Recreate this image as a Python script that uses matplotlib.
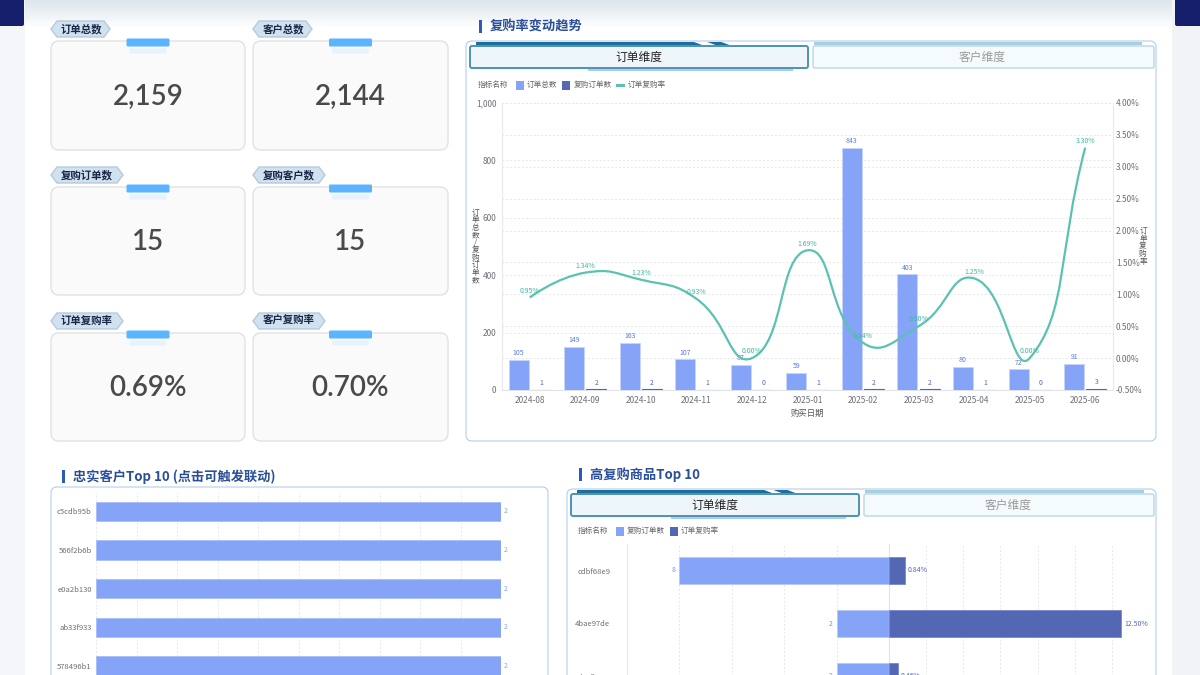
import numpy as np
import matplotlib
matplotlib.use("Agg")
import matplotlib.pyplot as plt
from matplotlib.patches import FancyBboxPatch, Rectangle, Polygon, PathPatch
from matplotlib.path import Path
from matplotlib.ticker import FuncFormatter

plt.rcParams['font.family'] = ['Noto Sans CJK SC', 'DejaVu Sans']

# KPI 卡片
kpi_labels = ['订单总数', '客户总数', '复购订单数', '复购客户数', '订单复购率', '客户复购率']
kpi_values = ['2,159', '2,144', '15', '15', '0.69%', '0.70%']

# 复购率变动趋势
months = ['2024-08', '2024-09', '2024-10', '2024-11', '2024-12', '2025-01',
          '2025-02', '2025-03', '2025-04', '2025-05', '2025-06']
order_total = [105, 149, 163, 107, 87, 59, 843, 403, 80, 72, 91]
repeat_orders = [1, 2, 2, 1, 0, 1, 2, 2, 1, 0, 3]
repeat_rate = [0.95, 1.34, 1.23, 0.93, 0.00, 1.69, 0.24, 0.50, 1.25, 0.00, 3.30]

# 忠实客户Top 10 (只看得到前5个)
customers = ['c5cdb95b', '566f2b6b', 'e0a2b130', 'ab33f933', '578496b1']
customer_orders = [2, 2, 2, 2, 2]

# 高复购商品Top 10
products = ['cdbf68e9', '4bae97de', 'd17fb606']
product_repeat = [8, 2, 2]
product_rate = [0.84, 12.50, 0.46]

LIGHT = '#85a3f7'
DARK = '#5367b5'
TEAL = '#5bc2b1'
GRID = '#e4e8ef'
TICK = '#6e7079'

W, H = 1200, 675
fig = plt.figure(figsize=(12, 6.75), dpi=100)
fig.patch.set_facecolor('white')

bg = fig.add_axes([0, 0, 1, 1])
bg.set_xlim(0, W)
bg.set_ylim(H, 0)
bg.axis('off')


def px_ax(x0, y0, x1, y1):
    a = fig.add_axes([x0 / W, 1 - y1 / H, (x1 - x0) / W, (y1 - y0) / H])
    a.set_facecolor('none')
    return a


def rbox(x0, y0, x1, y1, r=6, fc='white', ec='#b3cdf0', lw=0.8, z=1):
    bg.add_patch(FancyBboxPatch((x0 + r, y0 + r), x1 - x0 - 2 * r, y1 - y0 - 2 * r,
                                boxstyle=f'round,pad={r}', fc=fc, ec=ec, lw=lw, zorder=z))


# ---- 页面背景 ----
bg.add_patch(Rectangle((0, 0), 25, H, fc='#f4f6fa', ec='none', zorder=0))
bg.add_patch(Rectangle((1172, 0), 28, H, fc='#f1f3f7', ec='none', zorder=0))
bg.add_patch(FancyBboxPatch((0, -10), 22, 34, boxstyle='round,pad=2', fc='#161f6b', ec='none', zorder=1))
bg.add_patch(FancyBboxPatch((1177, -10), 30, 34, boxstyle='round,pad=2', fc='#161f6b', ec='none', zorder=1))
grad = np.linspace(0, 1, 50).reshape(-1, 1)
bg.imshow(grad, extent=(25, 1172, 28, 0), cmap=matplotlib.colors.LinearSegmentedColormap.from_list(
    'hd', ['#dde5ed', '#ffffff']), aspect='auto', zorder=0.5)
bg.set_xlim(0, W)
bg.set_ylim(H, 0)

# ---- KPI 卡片 ----
col_x = [(51, 245), (253, 448)]
row_y = [(41, 150), (187, 295), (333, 441)]
for k, (lab, val) in enumerate(zip(kpi_labels, kpi_values)):
    (x0, x1), (y0, y1) = col_x[k % 2], row_y[k // 2]
    rbox(x0, y0, x1, y1, r=8, fc='#fafafa', ec='#e2e2e2', lw=1.0)
    cx = (x0 + x1) / 2
    bg.add_patch(FancyBboxPatch((cx - 20, y0 - 1), 40, 5, boxstyle='round,pad=1.5',
                                fc='#5ab4ff', ec='none', zorder=3))
    bg.add_patch(FancyBboxPatch((cx - 17, y0 + 9), 34, 2, boxstyle='round,pad=1.5',
                                fc='#e6f3ff', ec='none', zorder=2))
    tw = 59 if len(lab) == 4 else 72
    ty = y0 - 12
    bg.add_patch(Polygon([(x0, ty), (x0 + 6, ty - 8), (x0 + tw - 6, ty - 8), (x0 + tw, ty),
                          (x0 + tw - 6, ty + 8), (x0 + 6, ty + 8)], closed=True,
                         fc='#d0e2f0', ec='#b5cade', lw=1, zorder=3))
    bg.text(x0 + 10, ty, lab, fontsize=7.5, fontweight='bold', color='#1b2545',
            va='center', ha='left', zorder=4)
    bg.text(cx, (y0 + y1) / 2 + 1, val, fontsize=20, color='#4a4a4a', ha='center',
            va='center', family=['Lato', 'DejaVu Sans'], fontweight='semibold', zorder=4)


def title(x, y, s):
    bg.add_patch(Rectangle((x, y - 7), 3, 13, fc='#2b5bb5', ec='none', zorder=3))
    bg.text(x + 11, y, s, fontsize=9.5, fontweight='bold', color='#2a4f9a', va='center', zorder=3)


def tabs(x0, x1, y0, y1, mid):
    # 左边选中
    bg.add_patch(Rectangle((x0 + 8, y0 - 4), (mid - x0) * 0.62, 3, fc='#1d6f99', ec='none', zorder=3))
    for dx in (0.62, 0.70):
        sx = x0 + (mid - x0) * dx
        bg.add_patch(Polygon([(sx, y0 - 4), (sx + 14, y0 - 4), (sx + 22, y0 - 1), (sx + 8, y0 - 1)],
                             fc='#1d6f99', ec='none', zorder=3))
    rbox(x0 + 2, y0, mid - 2, y1, r=2, fc='#eef6fa', ec='#4b93b8', lw=1.4, z=3)
    bg.add_patch(Rectangle((x0 + (mid - x0) * 0.35, y1 + 1), (mid - x0) * 0.6, 2,
                           fc='#a9d0e2', ec='none', zorder=3))
    bg.text((x0 + mid) / 2, (y0 + y1) / 2, '订单维度', fontsize=8.5, color='#222222',
            ha='center', va='center', zorder=4)
    # 右边未选中
    bg.add_patch(Rectangle((mid + 4, y0 - 4), (x1 - mid) * 0.95, 3, fc='#a8cfe0', ec='none', zorder=3))
    rbox(mid + 3, y0, x1 - 1, y1, r=2, fc='#f5fafc', ec='#c3dce8', lw=1.2, z=3)
    bg.text((mid + x1) / 2, (y0 + y1) / 2, '客户维度', fontsize=8.5, color='#9a9a9a',
            ha='center', va='center', zorder=4)


def legend(x, y, items):
    bg.text(x, y, '指标名称', fontsize=5.5, color='#666666', va='center', zorder=3)
    cx = x + 38
    for name, col, kind in items:
        if kind == 'line':
            bg.add_patch(Rectangle((cx, y - 1.5), 9, 3, fc=col, ec='none', zorder=3))
        else:
            bg.add_patch(Rectangle((cx, y - 4.5), 8, 9, fc=col, ec='none', zorder=3))
        bg.text(cx + 11, y, name, fontsize=5.5, color='#666666', va='center', zorder=3)
        cx += 11 + len(name) * 7.6 + 5


# ---- 复购率变动趋势 ----
title(479, 27, '复购率变动趋势')
rbox(466, 41, 1156, 441, r=6)
tabs(468, 1155, 46, 68, 810)
legend(478, 85, [('订单总数', LIGHT, 'bar'), ('复购订单数', DARK, 'bar'), ('订单复购率', TEAL, 'line')])

X0, Y0, X1, Y1 = 502, 103, 1113, 390
x = np.arange(len(months))

axg = px_ax(X0, Y0, X1, Y1)
axg.set_xlim(-0.5, len(months) - 0.5)
axg.set_ylim(-0.5, 4.0)
axg.set_yticks(np.arange(-0.5, 4.01, 0.5))
axg.set_xticks([])
axg.tick_params(left=False, labelleft=False)
axg.grid(axis='y', ls=(0, (2, 2)), color=GRID, lw=0.7)
for s in axg.spines.values():
    s.set_visible(False)

ax = px_ax(X0, Y0, X1, Y1)
ax.bar(x - 0.2, order_total, width=0.36, color=LIGHT, edgecolor='#c8d4fb', lw=0.6, zorder=3)
ax.bar(x + 0.2, repeat_orders, width=0.36, color=DARK, edgecolor=DARK, lw=0.8, zorder=3)
for i in range(len(months)):
    ax.annotate(str(order_total[i]), (x[i] - 0.2, order_total[i]), xytext=(0, 2),
                textcoords='offset points', ha='center', va='bottom', fontsize=5, color='#5b7be0')
    ax.annotate(str(repeat_orders[i]), (x[i] + 0.2, repeat_orders[i]), xytext=(0, 2),
                textcoords='offset points', ha='center', va='bottom', fontsize=5, color=DARK)
ax.set_xlim(-0.5, len(months) - 0.5)
ax.set_ylim(0, 1000)
ax.set_yticks(range(0, 1001, 200))
ax.yaxis.set_major_formatter(FuncFormatter(lambda v, p: f'{v:,.0f}'))
ax.set_xticks(x)
ax.set_xticklabels(months)
ax.tick_params(axis='both', length=0, labelsize=6, labelcolor=TICK, pad=4)
ax.tick_params(axis='y', pad=4)
ax.grid(axis='y', ls=(0, (2, 2)), color=GRID, lw=0.7)
ax.set_axisbelow(True)
for s in ['top', 'right']:
    ax.spines[s].set_visible(False)
ax.spines['bottom'].set_color('#dfe3ea')
ax.spines['left'].set_color('#e6e9ef')
ax.set_xlabel('购买日期', fontsize=6, color='#555555', labelpad=3)
ax.text(-0.043, 0.5, '\n'.join('订单总数/复购订单数'), transform=ax.transAxes, fontsize=5.5,
        color='#555555', ha='center', va='center', linespacing=0.92)

ax2 = ax.twinx()
ax2.set_ylim(-0.5, 4.0)
ax2.set_yticks(np.arange(-0.5, 4.01, 0.5))
ax2.yaxis.set_major_formatter(FuncFormatter(lambda v, p: f'{v:.2f}%'))
ax2.tick_params(axis='y', length=0, labelsize=6, labelcolor=TICK, pad=2)
for s in ['top', 'left', 'bottom']:
    ax2.spines[s].set_visible(False)
ax2.spines['right'].set_color('#e6e9ef')
ax2.text(1.049, 0.5, '\n'.join('订单复购率'), transform=ax2.transAxes, fontsize=5.5,
         color='#555555', ha='center', va='center', linespacing=0.92)


def smooth_path(xs, ys, sx, sy, smooth=0.5):
    # 仿 echarts 的平滑曲线
    P = np.column_stack([np.asarray(xs, float) * sx, np.asarray(ys, float) * sy])
    n = len(P)
    verts, codes = [P[0]], [Path.MOVETO]
    cp_out = P[0]
    for i in range(1, n):
        p, prev = P[i], P[i - 1]
        nxt = P[i + 1] if i < n - 1 else p
        v = nxt - prev
        l0, l1 = np.hypot(*(p - prev)), np.hypot(*(nxt - p))
        r = l1 / (l0 + l1) if (l0 + l1) > 0 else 0
        cp_in = p - v * smooth * (1 - r)
        verts += [cp_out, cp_in, p]
        codes += [Path.CURVE4] * 3
        cp_out = p + v * smooth * r
    return Path(np.array(verts) / [sx, sy], codes)


path = smooth_path(x, repeat_rate, (X1 - X0) / len(months), (Y1 - Y0) / 4.5)
ax2.add_patch(PathPatch(path, fill=False, edgecolor=TEAL, lw=1.6, zorder=5))
for i, v in enumerate(repeat_rate):
    ax2.annotate(f'{v:.2f}%', (x[i], v), xytext=(0, 2), textcoords='offset points',
                 ha='center', va='bottom', fontsize=5, color='#3fb8a3', zorder=6)

# ---- 忠实客户Top 10 ----
title(62, 477, '忠实客户Top 10 (点击可触发联动)')
rbox(51, 487, 548, 700, r=6)
axc = px_ax(96, 492, 501, 879)
yc = np.arange(len(customers))
axc.barh(yc, customer_orders, height=0.5, color=LIGHT, edgecolor='#a9bdfa', lw=0.6, zorder=3)
for i, v in enumerate(customer_orders):
    axc.annotate(str(v), (v, yc[i]), xytext=(2, 0), textcoords='offset points',
                 ha='left', va='center', fontsize=5, color=LIGHT)
axc.set_xlim(0, 2)
axc.set_xticks(np.arange(0, 2.01, 0.2))
axc.set_ylim(9.5, -0.5)
axc.set_yticks(yc)
axc.set_yticklabels(customers)
axc.tick_params(axis='y', length=0, labelsize=5.5, labelcolor=TICK, pad=3)
axc.tick_params(axis='x', length=0, labelbottom=False)
axc.grid(axis='x', ls=(0, (2, 2)), color=GRID, lw=0.7)
axc.set_axisbelow(True)
for s in axc.spines.values():
    s.set_visible(False)

# ---- 高复购商品Top 10 ----
title(579, 475, '高复购商品Top 10')
rbox(567, 489, 1156, 700, r=6)
tabs(569, 1155, 494, 516, 861)
legend(578, 531, [('复购订单数', LIGHT, 'bar'), ('订单复购率', DARK, 'bar')])

yp = np.arange(len(products))
axl = px_ax(627, 544, 889, 1074)
axl.barh(yp, product_repeat, height=0.5, color=LIGHT, edgecolor='#b8c8fb', lw=0.6, zorder=3)
for i, v in enumerate(product_repeat):
    axl.annotate(str(v), (v, yp[i]), xytext=(-3, 0), textcoords='offset points',
                 ha='right', va='center', fontsize=5, color='#6f8ef0')
axl.set_xlim(10, 0)
axl.set_xticks(range(0, 11, 2))
axl.set_ylim(9.5, -0.5)
axl.set_yticks(yp)
axl.set_yticklabels(products)
axl.tick_params(axis='y', length=0, labelsize=5.5, labelcolor=TICK, pad=12)
axl.tick_params(axis='x', length=0, labelbottom=False)
axl.grid(axis='x', ls=(0, (2, 2)), color=GRID, lw=0.7)
axl.set_axisbelow(True)
for s in ['top', 'right', 'bottom']:
    axl.spines[s].set_visible(False)
axl.spines['left'].set_color('#e3e7ee')

axr = px_ax(889, 544, 1149, 1074)
axr.barh(yp, product_rate, height=0.5, color=DARK, edgecolor='#7587c8', lw=0.6, zorder=3)
for i, v in enumerate(product_rate):
    axr.annotate(f'{v:.2f}%', (v, yp[i]), xytext=(2, 0), textcoords='offset points',
                 ha='left', va='center', fontsize=5, color=DARK)
axr.set_xlim(0, 14)
axr.set_xticks(range(0, 15, 2))
axr.set_ylim(9.5, -0.5)
axr.set_yticks([])
axr.tick_params(axis='x', length=0, labelbottom=False)
axr.grid(axis='x', ls=(0, (2, 2)), color=GRID, lw=0.7)
axr.set_axisbelow(True)
for s in ['top', 'right', 'bottom']:
    axr.spines[s].set_visible(False)
axr.spines['left'].set_color('#dfe3ea')

fig.savefig('out.png', dpi=100)
